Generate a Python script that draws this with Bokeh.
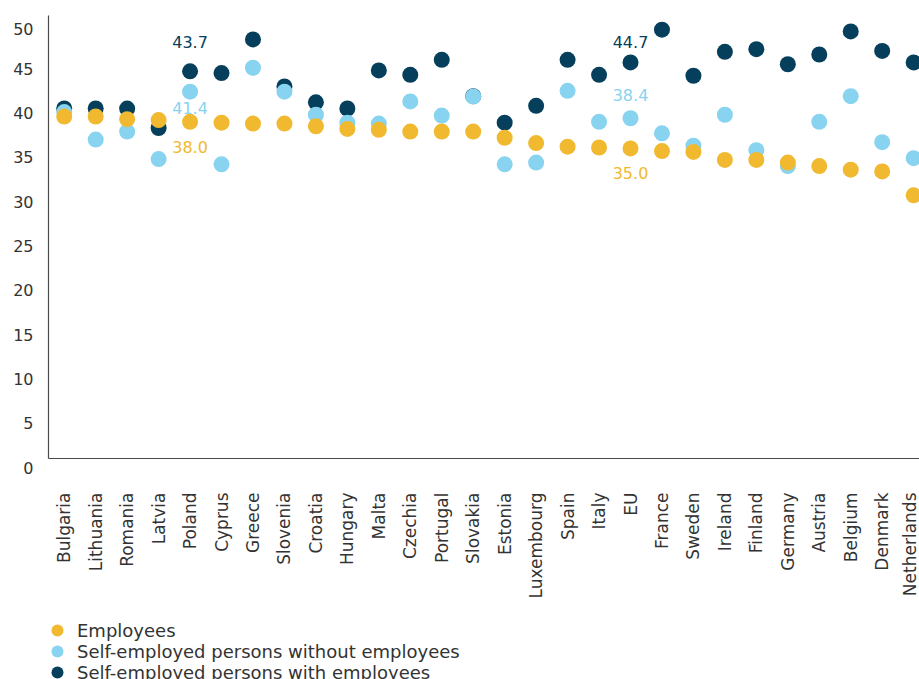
from bokeh.plotting import figure
from bokeh.layouts import column
from bokeh.models import (Range1d, FixedTicker, ColumnDataSource, LabelSet,
                          Legend, LegendItem)
from bokeh.core.properties import value
from bokeh.embed import file_html
from bokeh.resources import INLINE
from math import pi

# Usual weekly working hours by professional status, per country
countries = ["Bulgaria", "Lithuania", "Romania", "Latvia", "Poland", "Cyprus",
             "Greece", "Slovenia", "Croatia", "Hungary", "Malta", "Czechia",
             "Portugal", "Slovakia", "Estonia", "Luxembourg", "Spain", "Italy",
             "EU", "France", "Sweden", "Ireland", "Finland", "Germany",
             "Austria", "Belgium", "Denmark", "Netherlands"]

employees = [38.6, 38.6, 38.3, 38.2, 38.0, 37.9, 37.8, 37.8, 37.5, 37.2,
             37.1, 36.9, 36.9, 36.9, 36.2, 35.6, 35.2, 35.1, 35.0, 34.7,
             34.6, 33.7, 33.7, 33.4, 33.0, 32.6, 32.4, 29.7]

self_without = [39.1, 36.0, 36.9, 33.8, 41.4, 33.2, 44.1, 41.4, 38.8, 37.9,
                37.8, 40.3, 38.7, 40.85, 33.2, 33.4, 41.5, 38.0, 38.4, 36.7,
                35.3, 38.8, 34.8, 33.0, 38.0, 40.9, 35.7, 33.9]

self_with = [39.5, 39.5, 39.5, 37.3, 43.7, 43.5, 47.3, 42.0, 40.2, 39.5,
             43.8, 43.3, 45.0, 40.9, 37.9, 39.8, 45.0, 43.3, 44.7, 48.4,
             43.2, 45.9, 46.2, 44.5, 45.6, 48.2, 46.0, 44.7]

series_names = ["Employees", "Self-employed persons without employees",
                "Self-employed persons with employees"]

y_ticks = [0, 5, 10, 15, 20, 25, 30, 35, 40, 45, 50]

# Countries whose values are written next to the dots
labelled = ["Poland", "EU"]

COL_EMP = "#F0B92F"
COL_WITHOUT = "#88D3EF"
COL_WITH = "#053F5C"
FONT = "DejaVu Sans"
AXIS_COL = "#333333"

xs = list(range(len(countries)))
cat_px = 31.46          # horizontal space per country, in pixels
frame_w = 919 - 48

p = figure(width=919, height=614, output_backend="svg", toolbar_location=None,
           x_range=Range1d(-0.5, -0.5 + frame_w / cat_px),
           y_range=Range1d(0, 50),
           min_border_left=48, min_border_right=0,
           min_border_top=15, min_border_bottom=156)
p.outline_line_color = None
p.xgrid.visible = False
p.ygrid.visible = False
p.background_fill_color = "white"
p.border_fill_color = "white"

# axes
p.xaxis.ticker = FixedTicker(ticks=xs)
p.xaxis.major_label_overrides = {i: c for i, c in enumerate(countries)}
p.xaxis.major_label_orientation = pi / 2
p.xaxis.major_label_standoff = 34
p.xaxis.major_label_text_font_size = "17px"
p.yaxis.ticker = FixedTicker(ticks=y_ticks)
p.yaxis.major_label_standoff = 15
# tick values sit slightly below their tick: an empty first line drops them
p.yaxis.major_label_overrides = {t: "\n" + str(t) for t in y_ticks}
p.yaxis.major_label_text_font_size = "16px"
p.yaxis.major_label_text_line_height = 1.0
for ax in (p.xaxis, p.yaxis):
    ax.major_tick_in = 0
    ax.major_tick_out = 0
    ax.minor_tick_in = 0
    ax.minor_tick_out = 0
    ax.axis_line_color = "#4a4a4a"
    ax.axis_line_width = 1.2
    ax.major_label_text_font = FONT
    ax.major_label_text_color = AXIS_COL

src = ColumnDataSource(dict(x=xs, emp=employees, wo=self_without, wi=self_with))

p.scatter("x", "wi", source=src, size=16, fill_color=COL_WITH, line_color=None)
p.scatter("x", "wo", source=src, size=16, fill_color=COL_WITHOUT,
          line_color=None)
p.scatter("x", "emp", source=src, size=16, fill_color=COL_EMP, line_color=None)

# value labels for the highlighted countries (offsets in screen pixels)
offsets = {
    "Poland": {"wi": 29, "wo": -16, "emp": -25},
    "EU": {"wi": 20, "wo": 23, "emp": -25},
}
series = {"wi": (self_with, COL_WITH), "wo": (self_without, COL_WITHOUT),
          "emp": (employees, COL_EMP)}
for key, (vals, col) in series.items():
    lx, ly, lt, lo = [], [], [], []
    for name in labelled:
        i = countries.index(name)
        lx.append(i)
        ly.append(vals[i])
        lt.append(f"{vals[i]:.1f}")
        lo.append(offsets[name][key])
    ls = ColumnDataSource(dict(x=lx, y=ly, t=lt, o=lo))
    p.add_layout(LabelSet(x="x", y="y", text="t", y_offset="o", source=ls,
                          text_align="center", text_baseline="middle",
                          text_color=col, text_font=value(FONT),
                          text_font_size="16px"))

# legend strip underneath the chart; its renderers are hidden, only the
# legend swatches are shown.  One legend per entry so that rows can sit
# closer together than the swatch box height.
lg = figure(width=919, height=65, output_backend="svg", toolbar_location=None,
            x_range=Range1d(0, 1), y_range=Range1d(0, 1),
            x_axis_type=None, y_axis_type=None,
            min_border_left=0, min_border_right=0,
            min_border_top=0, min_border_bottom=0)
lg.outline_line_color = None
lg.xgrid.visible = False
lg.ygrid.visible = False
row_bottoms = [34, 13, -8]      # legend rows, 21 px apart
for name, col, key, vy in zip(series_names, [COL_EMP, COL_WITHOUT, COL_WITH],
                              ["emp", "wo", "wi"], row_bottoms):
    r = lg.scatter("x", key, source=src, size=16, fill_color=col,
                   line_color=None, visible=False)
    lg.add_layout(Legend(items=[LegendItem(label=name, renderers=[r])],
                         location=(-6, vy), orientation="vertical",
                         glyph_width=30, glyph_height=30, label_height=30,
                         spacing=0, label_standoff=5, padding=0, margin=0,
                         background_fill_alpha=0, border_line_alpha=0,
                         inactive_fill_alpha=0,
                         label_text_font=FONT, label_text_font_size="18px",
                         label_text_color=AXIS_COL))

open("out.html", "w").write(file_html(column(p, lg), INLINE))
